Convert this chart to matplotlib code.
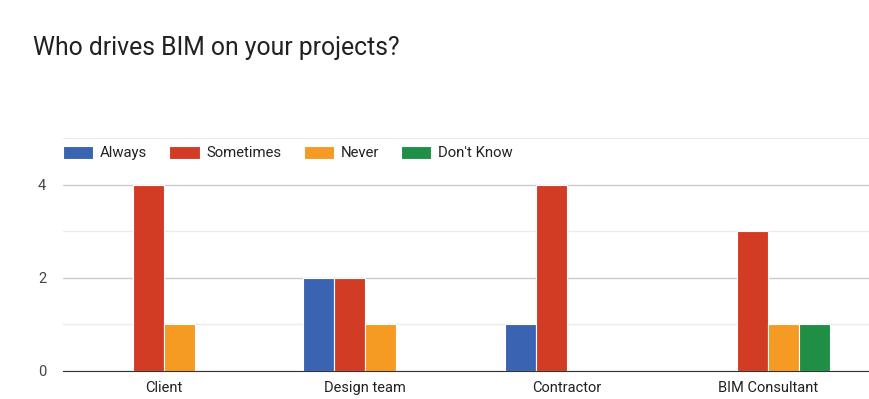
import numpy as np
import matplotlib.pyplot as plt

categories = ["Client", "Design team", "Contractor", "BIM Consultant"]
series = ["Always", "Sometimes", "Never", "Don't Know"]
always = [0, 2, 1, 0]
sometimes = [4, 2, 4, 3]
never = [1, 1, 0, 1]
dont_know = [0, 0, 0, 1]
colors = ["#3a64b1", "#d33c24", "#f59a23", "#1f8f46"]


def main():
    plt.rcParams['font.family'] = ['Roboto', 'DejaVu Sans']
    fig = plt.figure(figsize=(8.69, 3.99), dpi=100)
    ax = fig.add_axes([63 / 869, 28 / 399, 806 / 869, 233 / 399])

    x = np.arange(len(categories))
    width = 0.154
    values = [always, sometimes, never, dont_know]
    handles = []
    for i, (name, vals) in enumerate(zip(series, values)):
        offs = (i - 1.5) * width
        b = ax.bar(x + offs, vals, width, color=colors[i], edgecolor='white',
                   linewidth=0.8, label=name, zorder=3)
        handles.append(b)

    ax.set_xlim(-0.5, 3.5)
    ax.set_ylim(0, 5)
    ax.set_yticks([0, 2, 4])
    ax.set_yticks([1, 3, 5], minor=True)
    ax.grid(axis='y', which='major', color='#cccccc', linewidth=1, zorder=0)
    ax.grid(axis='y', which='minor', color='#ebebeb', linewidth=1, zorder=0)
    ax.tick_params(axis='y', which='both', length=0, pad=12, labelsize=10.5,
                   labelcolor='#444444')
    ax.tick_params(axis='x', length=0, pad=7, labelsize=10.5, labelcolor='#222222')
    ax.set_xticks(x)
    ax.set_xticklabels(categories)
    for s in ['top', 'right', 'left']:
        ax.spines[s].set_visible(False)
    ax.spines['bottom'].set_color('#333333')
    ax.spines['bottom'].set_zorder(4)

    # title
    fig.text(33 / 869, 1 - 48 / 399, "Who drives BIM on your projects?",
             fontsize=17.8, color='#212121', va='center', ha='left')

    leg = fig.legend(handles=handles, labels=series, loc='center left',
                     bbox_to_anchor=(63 / 869, 1 - 153 / 399), ncol=4,
                     frameon=False, fontsize=10.7, handlelength=2.03,
                     handleheight=1.0, handletextpad=0.45, columnspacing=1.5,
                     borderpad=0, borderaxespad=0)
    for t in leg.get_texts():
        t.set_color('#222222')

    fig.savefig("out.png", dpi=100)


if __name__ == "__main__":
    main()
